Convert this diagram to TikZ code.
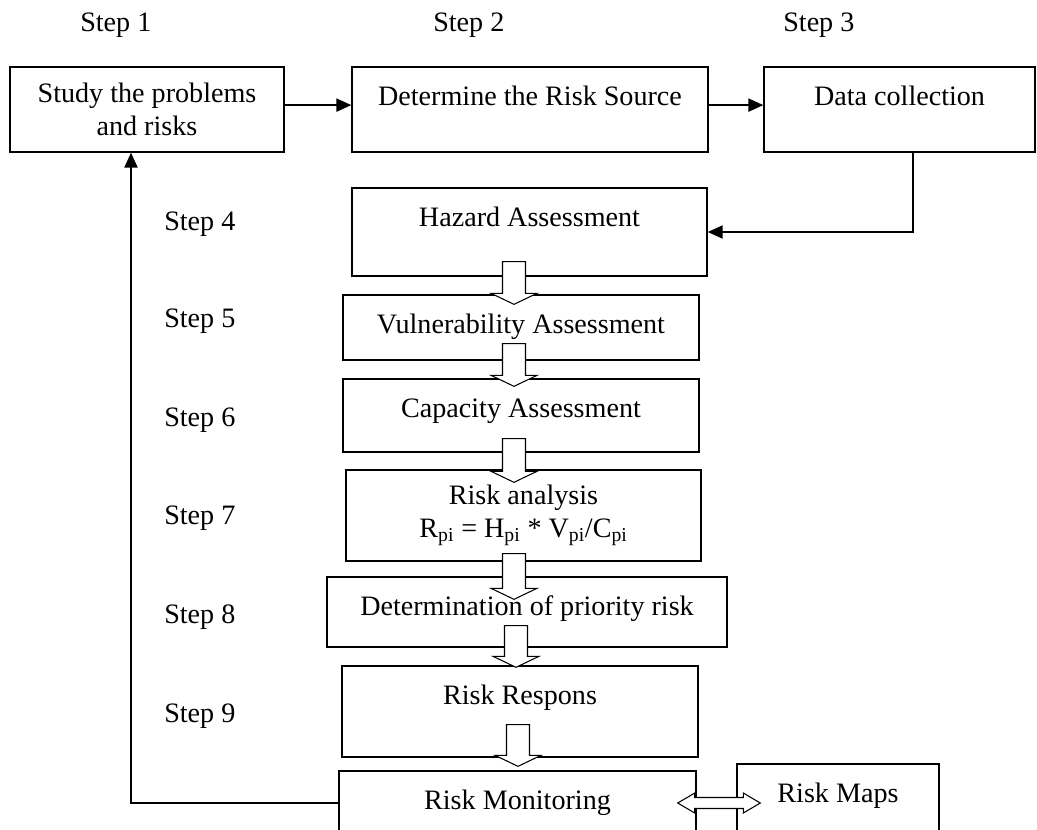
\documentclass[tikz,border=0pt]{standalone}
\usepackage{fontspec}
\setmainfont{Liberation Serif}
\usepackage{tikz}
\usetikzlibrary{calc}
\usetikzlibrary{arrows.meta}

\tikzset{
  stepbox/.style={draw,line width=0.95pt,inner sep=0pt,align=center},
  oneline/.style={stepbox,text height=0.95cm},
  steplabel/.style={anchor=base west,inner sep=0pt},
  arr/.style={line width=1.15pt,-{Triangle[length=0.375cm,width=0.33cm]}},
  hollow/.style={fill=white,line width=0.75pt,to path={
    ($(\tikztostart)+(-11.5,0)$) -- ($(\tikztotarget)+(-11.5,-11)$)
    -- ($(\tikztotarget)+(-23,-11)$) -- (\tikztotarget)
    -- ($(\tikztotarget)+(23,-11)$) -- ($(\tikztotarget)+(11.5,-11)$)
    -- ($(\tikztostart)+(11.5,0)$) -- cycle}},
  dblarrow/.style={fill=white,line width=0.75pt,to path={
    (\tikztostart) -- ($(\tikztostart)+(17,-10)$) -- ($(\tikztostart)+(17,-5.5)$)
    -- ($(\tikztotarget)+(-17,-5.5)$) -- ($(\tikztotarget)+(-17,-10)$)
    -- (\tikztotarget) -- ($(\tikztotarget)+(-17,10)$) -- ($(\tikztotarget)+(-17,5.5)$)
    -- ($(\tikztostart)+(17,5.5)$) -- ($(\tikztostart)+(17,10)$) -- cycle}}
}

\begin{document}
\begin{tikzpicture}[x=0.025cm,y=-0.025cm,font=\fontsize{20}{23.5}\selectfont]
\clip (0,0) rectangle (1037,829);

% step labels
\node[steplabel] (s1) at (80,31) {Step 1};
\node[steplabel] (s2) at (433,31) {Step 2};
\node[steplabel] (s3) at (783,31) {Step 3};
\node[steplabel] (s4) at (164,230) {Step 4};
\node[steplabel] (s5) at (164,327) {Step 5};
\node[steplabel] (s6) at (164,426) {Step 6};
\node[steplabel] (s7) at (164,524) {Step 7};
\node[steplabel] (s8) at (164,623) {Step 8};
\node[steplabel] (s9) at (164,722) {Step 9};

% boxes
\node[stepbox,minimum width=6.85cm,minimum height=2.125cm] (study) at (147,109.5) {Study the problems\\and risks};
\node[oneline,minimum width=8.9cm,text depth=1.175cm] (source) at (530,109.5) {Determine the Risk Source};
\node[oneline,minimum width=6.775cm,text depth=1.175cm] (data) at (899.5,109.5) {Data collection};
\node[oneline,minimum width=8.875cm,text depth=1.25cm] (hazard) at (529.5,232) {Hazard Assessment};
\node[oneline,minimum width=8.9cm,text depth=0.675cm] (vuln) at (521,327.5) {Vulnerability Assessment};
\node[oneline,minimum width=8.9cm,text depth=0.875cm] (capac) at (521,415.5) {Capacity Assessment};
\node[stepbox,minimum width=8.875cm,minimum height=2.275cm] (analysis) at (523.5,515.5) {Risk analysis\\R\textsubscript{pi} = H\textsubscript{pi} * V\textsubscript{pi}/C\textsubscript{pi}};
\node[oneline,minimum width=10cm,text depth=0.8cm] (priority) at (527,612) {Determination of priority risk};
\node[oneline,minimum width=8.9cm,text depth=1.325cm] (respons) at (520,711.5) {Risk Respons};
\node[oneline,minimum width=8.925cm,text depth=0.65cm] (monitor) at (517.5,803) {Risk Monitoring};
\node[oneline,minimum width=5.05cm,text depth=1cm] (maps) at (838,803) {Risk Maps};

% connectors
\draw[arr] ([yshift=0.11cm]study.east) -- ([yshift=0.11cm]source.west);
\draw[arr] ([yshift=0.11cm]source.east) -- ([yshift=0.11cm]data.west);
\draw[arr] ([xshift=0.34cm]data.south) |- (hazard.east);
\draw[arr] (monitor.west) -| ($(study.south)+(-16,0)$);

% hollow arrows
\draw[hollow] ($(hazard.south)+(-15.5,-15)$) to ($(vuln.north)+(-7,10)$);
\draw[hollow] ($(vuln.south)+(-7,-17)$) to ($(capac.north)+(-7,8)$);
\draw[hollow] ($(capac.south)+(-7,-14)$) to ($(analysis.north)+(-9.5,13)$);
\draw[hollow] ($(analysis.south)+(-9.5,-8)$) to ($(priority.north)+(-13,23)$);
\draw[hollow] ($(priority.south)+(-11,-22)$) to ($(respons.north)+(-4,2)$);
\draw[hollow] ($(respons.south)+(-2,-33)$) to ($(monitor.north)+(0.5,-4)$);

\coordinate (ml) at ([xshift=-0.475cm]monitor.east);
\coordinate (mr) at ([xshift=0.6cm]maps.west);
\draw[dblarrow] (ml) to (mr);
\end{tikzpicture}
\end{document}
